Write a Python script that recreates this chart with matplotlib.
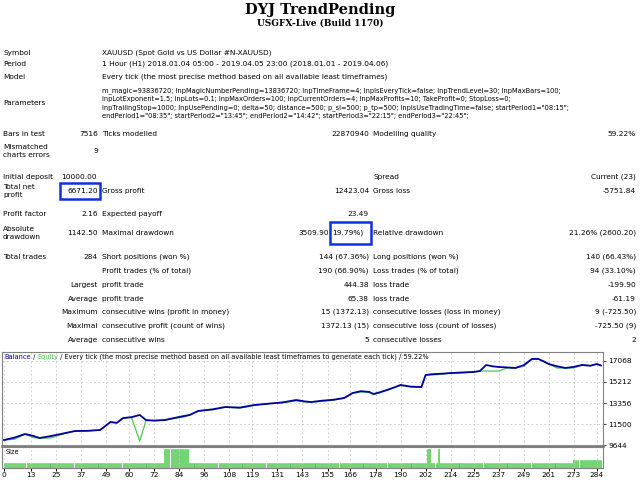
import matplotlib
matplotlib.use("Agg")
import matplotlib.pyplot as plt
from matplotlib.patches import Rectangle

W, H = 640, 480
FS = 5.3
BLUE, GREEN = "#0000a0", "#4ec94e"

# balance / equity curve, read at trade indices
trade_idx = [0, 5, 10, 14, 17, 22, 28, 34, 40, 46, 51, 54, 57, 61, 65, 68, 72, 77, 82, 86, 89, 93,
             100, 106, 113, 120, 127, 133, 140, 144, 147, 152, 158, 163, 167, 171, 175, 177, 180, 185,
             190, 195, 200, 202, 205, 210, 214, 219, 225, 228, 231, 234, 237, 241, 245, 249, 253, 256,
             259, 261, 265, 269, 273, 277, 281, 284, 286]
balance = [10086, 10300, 10616, 10450, 10260, 10420, 10650, 10880, 10900, 10970, 11680, 11600, 12030,
           12100, 12300, 11850, 11800, 11850, 12050, 12200, 12300, 12650, 12800, 13000, 12950, 13180,
           13300, 13400, 13620, 13500, 13440, 13550, 13650, 13800, 14240, 14400, 14330, 14150, 14300,
           14600, 14950, 14800, 14770, 15830, 15900, 15950, 16000, 16050, 16100, 16180, 16715, 16600,
           16540, 16500, 16450, 16700, 17250, 17250, 17000, 16800, 16600, 16450, 16550, 16715, 16650,
           16800, 16671]
equity = [10086, 10150, 10600, 10300, 10260, 10260, 10600, 10880, 10880, 10970, 11650, 11600, 12000,
          12100, 10000, 11800, 11800, 11850, 12000, 12100, 12300, 12650, 12750, 13000, 12900, 13150,
          13300, 13350, 13550, 13440, 13440, 13500, 13600, 13800, 14200, 14330, 14330, 14100, 14250,
          14600, 14900, 14770, 14770, 15830, 15830, 15900, 16000, 16000, 16100, 16180, 16180, 16180,
          16180, 16450, 16450, 16600, 17250, 17250, 16950, 16800, 16450, 16450, 16450, 16715, 16650,
          16800, 16671]

# lot size per trade
sizes = [0.1] * 77 + [0.4] * 12 + [0.1] * 114 + [0.4] * 2 + [0.1] * 3 + [0.4] + [0.1] * 64 + [0.18] * 14
x_ticks = [0, 13, 25, 37, 49, 60, 72, 84, 96, 108, 119, 131, 143, 155, 166, 178, 190, 202, 214, 225,
           237, 249, 261, 273, 284]
y_ticks = [9644, 11500, 13356, 15212, 17068]

rows = [
    ("Symbol", "XAUUSD (Spot Gold vs US Dollar #N-XAUUSD)", 53),
    ("Period", "1 Hour (H1) 2018.01.04 05:00 - 2019.04.05 23:00 (2018.01.01 - 2019.04.06)", 64),
    ("Model", "Every tick (the most precise method based on all available least timeframes)", 77),
]
params = ('m_magic=93836720; InpMagicNumberPending=13836720; InpTimeFrame=4; InpIsEveryTick=false; InpTrendLevel=30; InpMaxBars=100;\n'
          'InpLotExponent=1.5; InpLots=0.1; InpMaxOrders=100; InpCurrentOrders=4; InpMaxProfits=10; TakeProfit=0; StopLoss=0;\n'
          'InpTrailingStop=1000; InpUsePending=0; delta=50; distance=500; p_sl=500; p_tp=500; InpIsUseTradingTime=false; startPeriod1="08:15";\n'
          'endPeriod1="08:35"; startPeriod2="13:45"; endPeriod2="14:42"; startPeriod3="22:15"; endPeriod3="22:45";')

fig = plt.figure(figsize=(6.4, 4.8), dpi=100)
fig.patch.set_facecolor("white")


def t(x, y, s, ha="left", va="center", **kw):
    kw.setdefault("fontsize", FS)
    return fig.text(x / W, 1 - y / H, s, ha=ha, va=va, **kw)


t(320, 10, "DYJ TrendPending", ha="center", family="DejaVu Serif", fontweight="bold", fontsize=10.5)
t(320, 23, "USGFX-Live (Build 1170)", ha="center", family="DejaVu Serif", fontweight="bold", fontsize=6.5)

for lab, val, y in rows:
    t(3, y, lab); t(102, y, val)
t(3, 103, "Parameters"); t(102, 103, params, linespacing=1.45, fontsize=4.75)
t(3, 134, "Bars in test"); t(98, 134, "7516", ha="right")
t(102, 134, "Ticks modelled"); t(369, 134, "22870940", ha="right")
t(373, 134, "Modelling quality"); t(636, 134, "59.22%", ha="right")
t(3, 151, "Mismatched\ncharts errors", linespacing=1.3); t(98, 151, "9", ha="right")

t(3, 177, "Initial deposit"); t(61, 177, "10000.00")
t(373, 177, "Spread"); t(636, 177, "Current (23)", ha="right")
t(3, 191, "Total net\nprofit", linespacing=1.3); t(98, 191, "6671.20", ha="right")
t(102, 191, "Gross profit"); t(369, 191, "12423.04", ha="right")
t(373, 191, "Gross loss"); t(636, 191, "-5751.84", ha="right")
t(3, 214, "Profit factor"); t(98, 214, "2.16", ha="right")
t(102, 214, "Expected payoff"); t(369, 214, "23.49", ha="right")
t(3, 233, "Absolute\ndrawdown", linespacing=1.3); t(98, 233, "1142.50", ha="right")
t(102, 233, "Maximal drawdown"); t(329, 233, "3509.90", ha="right"); t(332, 233, "19.79%)")
t(373, 233, "Relative drawdown"); t(636, 233, "21.26% (2600.20)", ha="right")
t(3, 257, "Total trades"); t(98, 257, "284", ha="right")
t(102, 257, "Short positions (won %)"); t(369, 257, "144 (67.36%)", ha="right")
t(373, 257, "Long positions (won %)"); t(636, 257, "140 (66.43%)", ha="right")
stats = [
    ("", "Profit trades (% of total)", "190 (66.90%)", "Loss trades (% of total)", "94 (33.10%)", 271),
    ("Largest", "profit trade", "444.38", "loss trade", "-199.90", 285),
    ("Average", "profit trade", "65.38", "loss trade", "-61.19", 299),
    ("Maximum", "consecutive wins (profit in money)", "15 (1372.13)", "consecutive losses (loss in money)", "9 (-725.50)", 312),
    ("Maximal", "consecutive profit (count of wins)", "1372.13 (15)", "consecutive loss (count of losses)", "-725.50 (9)", 326),
    ("Average", "consecutive wins", "5", "consecutive losses", "2", 340),
]
for a, b, c, d, e, y in stats:
    t(98, y, a, ha="right"); t(102, y, b); t(369, y, c, ha="right"); t(373, y, d); t(636, y, e, ha="right")

for x0, y0, x1, y1 in [(60, 183, 100, 199), (330, 222, 371, 244)]:
    fig.patches.append(Rectangle((x0 / W, 1 - y1 / H), (x1 - x0) / W, (y1 - y0) / H,
                                 transform=fig.transFigure, fill=False, ec="#1030e0", lw=1.8))

# chart
L, R = 2 / W, 603 / W
ax = fig.add_axes([L, 1 - 446 / H, R - L, (446 - 352) / H])
ax2 = fig.add_axes([L, 1 - 468 / H, R - L, (468 - 447) / H])
ax.plot(trade_idx, equity, color=GREEN, lw=0.9)
ax.plot(trade_idx, balance, color=BLUE, lw=1.3)
ax.set_xlim(-1, 287); ax.set_ylim(9556, 17863)
ax.yaxis.tick_right(); ax.set_yticks(y_ticks); ax.set_xticks(x_ticks); ax.set_xticklabels([])
ax.tick_params(axis="y", labelsize=FS, length=2, color="#444", pad=2)
ax.tick_params(axis="x", length=0)
ax2.bar(range(len(sizes)), sizes, width=0.5, color=GREEN, ec=GREEN, lw=0.4)
ax2.set_xlim(-1, 287); ax2.set_ylim(0, 0.45)
ax2.set_yticks([]); ax2.set_xticks(x_ticks)
ax2.tick_params(axis="x", labelsize=FS, length=2, pad=1)
ax2.text(0.006, 0.9, "Size", transform=ax2.transAxes, fontsize=FS - 0.5, va="top")
for a in (ax, ax2):
    a.grid(True, color="#c8c8c8", ls=(0, (2, 3)), lw=0.6)
    for s in a.spines.values():
        s.set_color("#808080"); s.set_linewidth(0.8)
ax.spines["bottom"].set_linewidth(2)

# legend line in main chart
fig.canvas.draw()
rend = fig.canvas.get_renderer()
x = 4
for s, c in [("Balance", BLUE), (" / ", "black"), ("Equity", GREEN),
             (" / Every tick (the most precise method based on all available least timeframes to generate each tick) / 59.22%", "black")]:
    tx = t(x, 357, s, color=c, fontsize=FS - 0.5)
    x += tx.get_window_extent(rend).width

fig.savefig("out.png", dpi=100)
